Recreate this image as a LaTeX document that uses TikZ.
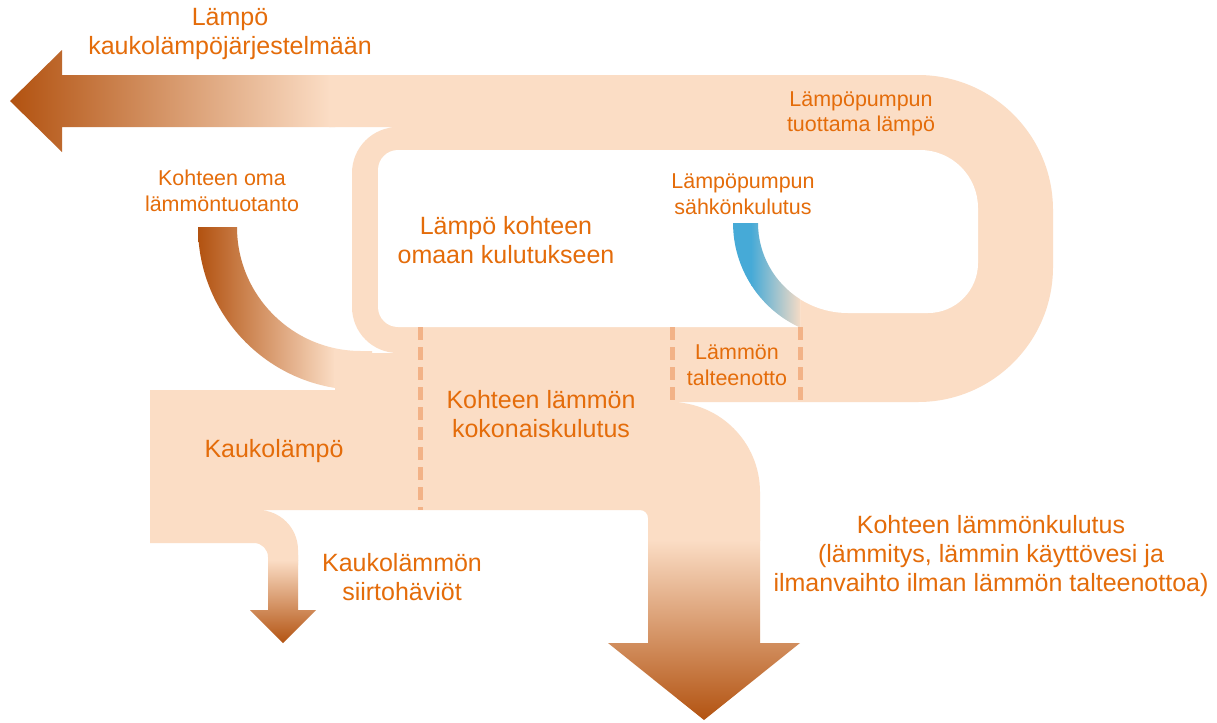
\documentclass[tikz,border=0pt]{standalone}
\usepackage{fontspec}
\setmainfont{Liberation Sans}
\definecolor{peach}{RGB}{251,221,197}
\definecolor{brownD}{RGB}{178,82,16}
\definecolor{txt}{RGB}{228,108,10}
\definecolor{bluE}{RGB}{70,170,215}
\definecolor{dashc}{RGB}{242,178,135}
\begin{document}
\begin{tikzpicture}[x=0.75pt,y=-0.75pt,
  flow/.style={fill=peach},
  hole/.style={fill=white},
  lblL/.style={font=\fontsize{18.75}{22.1}\selectfont, text=txt, align=center, inner sep=0pt},
  lblS/.style={font=\fontsize{16.1}{19.1}\selectfont, text=txt, align=center, inner sep=0pt},
  divider/.style={draw=dashc, line width=3.75pt, dash pattern=on 10pt off 5pt}]
\useasboundingbox (0,0) rectangle (1217,722);
\fill[white] (0,0) rectangle (1217,722);

% main peach flow
\fill[flow] (330,75) -- (918,75) arc[start angle=-90,end angle=0,radius=135]
  -- (1053,267) arc[start angle=0,end angle=90,radius=135]
  -- (670,402) arc[start angle=-90,end angle=0,radius=90]
  -- (760,540) -- (648,540) -- (648,518) arc[start angle=0,end angle=-90,radius=8]
  -- (258,510) arc[start angle=-90,end angle=0,radius=40]
  -- (298,565) -- (268,565) -- (268,557) arc[start angle=0,end angle=-90,radius=14]
  -- (150,543) -- (150,390) -- (335,390) -- (335,353)
  -- (398,353) arc[start angle=90,end angle=180,radius=46]
  -- (352,173) arc[start angle=180,end angle=270,radius=46]
  -- (330,127) -- cycle;

% inner white area of the loop
\fill[hole] (398,150) -- (920,150) arc[start angle=-90,end angle=0,radius=58]
  -- (978,263) arc[start angle=0,end angle=90,radius=50]
  -- (848,313) arc[start angle=90,end angle=122.2,radius=90]
  -- (800,327) -- (398,327) arc[start angle=90,end angle=180,radius=20]
  -- (378,170) arc[start angle=180,end angle=270,radius=20] -- cycle;

% arrow to district heating
\begin{scope}
\clip (10,101) -- (62,50) -- (62,75) -- (335,75) -- (335,127) -- (62,127) -- (62,152) -- cycle;
\shade[left color=brownD,right color=peach] (10,40) rectangle (330,160);
\fill[peach] (329,40) rectangle (340,160);
\end{scope}

% own heat production arc
\begin{scope}
\clip (198,227) arc[start angle=180,end angle=90,radius=163] -- (372,390) -- (372,351) -- (361,351)
  arc[start angle=90,end angle=180,radius=124] -- cycle;
\shade[left color=brownD,right color=peach] (198,220) rectangle (335,400);
\fill[peach] (334,220) rectangle (380,400);
\end{scope}

% heat pump electricity arc
\begin{scope}
\clip (733,223) -- (758,223) arc[start angle=180,end angle=122.2,radius=90]
  -- (800,327.5) arc[start angle=114.7,end angle=180,radius=115] -- cycle;
\fill[bluE] (720,210) rectangle (752,340);
\shade[left color=bluE,right color=peach] (751,210) rectangle (802,340);
\end{scope}

% big consumption arrow
\begin{scope}
\clip (648,530) -- (760,530) -- (760,643) -- (800,643) -- (704,720) -- (608,643) -- (648,643) -- cycle;
\shade[top color=peach,bottom color=brownD] (600,540) rectangle (810,721);
\fill[peach] (600,528) rectangle (810,541);
\end{scope}

% small loss arrow
\begin{scope}
\clip (268,555) -- (298,555) -- (298,610) -- (316,610) -- (283,643) -- (250,610) -- (268,610) -- cycle;
\shade[top color=peach,bottom color=brownD] (245,560) rectangle (320,644);
\fill[peach] (245,553) rectangle (320,561);
\end{scope}

% dashed dividers
\draw[divider] (420,327) -- (420,510);
\draw[divider] (672,327) -- (672,402);
\draw[divider] (800,327) -- (800,402);

% labels
\node[lblL] (dh) at (230,34) {Lämpö\\kaukolämpöjärjestelmään};
\node[lblS] (hpheat) at (861,114) {Lämpöpumpun\\tuottama lämpö};
\node[lblS] (own) at (222,191) {Kohteen oma\\lämmöntuotanto};
\node[lblL] (ownuse) at (506,240) {Lämpö kohteen\\omaan kulutukseen};
\node[lblS] (hpel) at (743,194) {Lämpöpumpun\\sähkönkulutus};
\node[lblS] (rec) at (737,365) {Lämmön\\talteenotto};
\node[lblL] (total) at (541,414) {Kohteen lämmön\\kokonaiskulutus};
\node[lblL] (dhin) at (274,451) {Kaukolämpö};
\node[lblL] (loss) at (402,577) {Kaukolämmön\\siirtohäviöt};
\node[lblL] (cons) at (991,556) {Kohteen lämmönkulutus\\(lämmitys, lämmin käyttövesi ja\\ilmanvaihto ilman lämmön talteenottoa)};
\end{tikzpicture}
\end{document}
